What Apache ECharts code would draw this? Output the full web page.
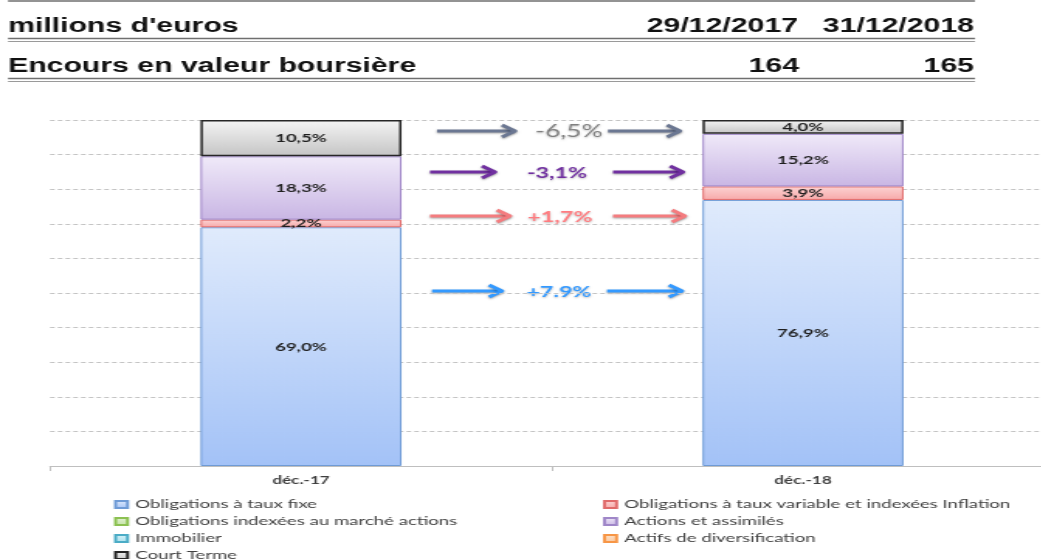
<!DOCTYPE html>
<html>
<head>
<meta charset="utf-8">
<script src="https://cdn.jsdelivr.net/npm/echarts@6/dist/echarts.min.js"></script>
<style>
html, body { margin: 0; padding: 0; overflow: hidden; background: #fff; }
#chart { height: 559px; transform-origin: 0 0; }
</style>
</head>
<body>
<div id="chart"></div>
<script>
// valeurs (% de l'encours)
var categories = ['déc.-17', 'déc.-18'];
var seriesNames = [
    'Obligations à taux fixe',
    'Obligations à taux variable et indexées Inflation',
    'Obligations indexées au marché actions',
    'Actions et assimilés',
    'Immobilier',
    'Actifs de diversification',
    'Court Terme'
];
var obligFixe = [69.0, 76.9];
var obligVariable = [2.2, 3.9];
var obligIndexees = ['-', '-'];
var actions = [18.3, 15.2];
var immobilier = ['-', '-'];
var actifsDiversif = ['-', '-'];
var courtTerme = [10.5, 4.0];

var headerTitle = ["millions d'euros", 'Encours en valeur boursière'];
var headerDates = ['29/12/2017', '31/12/2018'];
var headerEncours = ['164', '165'];
var variations = ['-6,5%', '-3,1%', '+1,7%', '+7.9%'];

// the reference picture is stretched horizontally, so draw narrow and stretch
var S = 1.55;
var W = 1080 / S;   // a bit wider than the window: the plot runs past the right edge
var dom = document.getElementById('chart');
dom.style.width = W + 'px';
dom.style.transform = 'scaleX(' + S + ')';
function px(x) { return x / S; }

var seriesData = [obligFixe, obligVariable, obligIndexees, actions, immobilier, actifsDiversif, courtTerme];
var seriesStyle = [
    ['#e0ebfc', '#a3c2f7', '#6f9bd6', 1],
    ['#fcd3d3', '#f7a9a9', '#e06a6a', 1],
    ['#e4f2d6', '#c3e3a3', '#8cc152', 1],
    ['#f0eaf9', '#c9b6e4', '#9f86c8', 1],
    ['#d8f2f8', '#a6e0ee', '#4bacc6', 1],
    ['#fde3cc', '#fbc79c', '#f79646', 1],
    ['#f5f5f5', '#c4c4c4', '#262626', 1.5]
];

function fmt(p) {
    return p.value.toFixed(1).replace('.', ',') + '%';
}

var series = [];
for (var i = 0; i < seriesNames.length; i++) {
    series.push({
        name: seriesNames[i],
        type: 'bar',
        stack: 'total',
        barWidth: px(201),
        data: seriesData[i],
        itemStyle: {
            color: new echarts.graphic.LinearGradient(0, 0, 0, 1, [
                { offset: 0, color: seriesStyle[i][0] },
                { offset: 1, color: seriesStyle[i][1] }
            ]),
            borderColor: seriesStyle[i][2],
            borderWidth: seriesStyle[i][3]
        },
        label: {
            show: true,
            position: 'inside',
            formatter: fmt,
            color: '#1f1f1f',
            fontFamily: 'Lato',
            fontWeight: 'bold',
            fontSize: 12
        }
    });
}

// en-tete (tableau au-dessus du graphique)
var headFont = 'bold 19.5px "Liberation Sans"';
var graphic = [
    { type: 'line', shape: { x1: px(8), y1: 1, x2: px(975), y2: 1 }, style: { stroke: '#6f6f6f', lineWidth: 1.5 } },
    { type: 'text', style: { text: headerTitle[0], x: px(8), y: 27, font: headFont, fill: '#111', verticalAlign: 'middle' } },
    { type: 'text', style: { text: headerDates[0], x: px(798), y: 27, font: headFont, fill: '#111', textAlign: 'right', verticalAlign: 'middle' } },
    { type: 'text', style: { text: headerDates[1], x: px(974), y: 27, font: headFont, fill: '#111', textAlign: 'right', verticalAlign: 'middle' } },
    { type: 'line', shape: { x1: px(8), y1: 38.5, x2: px(975), y2: 38.5 }, style: { stroke: '#6f6f6f', lineWidth: 1.3 } },
    { type: 'line', shape: { x1: px(8), y1: 41.5, x2: px(975), y2: 41.5 }, style: { stroke: '#9a9a9a', lineWidth: 1.2 } },
    { type: 'text', style: { text: headerTitle[1], x: px(8), y: 67, font: headFont, fill: '#111', verticalAlign: 'middle' } },
    { type: 'text', style: { text: headerEncours[0], x: px(799), y: 67, font: headFont, fill: '#111', textAlign: 'right', verticalAlign: 'middle' } },
    { type: 'text', style: { text: headerEncours[1], x: px(974), y: 67, font: headFont, fill: '#111', textAlign: 'right', verticalAlign: 'middle' } },
    { type: 'line', shape: { x1: px(8), y1: 78.5, x2: px(975), y2: 78.5 }, style: { stroke: '#6f6f6f', lineWidth: 1.3 } },
    { type: 'line', shape: { x1: px(8), y1: 81.5, x2: px(975), y2: 81.5 }, style: { stroke: '#9a9a9a', lineWidth: 1.2 } }
];

// fleches d'evolution entre les deux dates
function arrow(x1, x2, y, color) {
    var shadow = { shadowBlur: 2, shadowColor: 'rgba(0,0,0,0.35)', shadowOffsetY: 1 };
    return {
        type: 'group',
        children: [
            { type: 'line', shape: { x1: px(x1), y1: y, x2: px(x2) - 0.5, y2: y },
              style: Object.assign({ stroke: color, lineWidth: 3 }, shadow) },
            { type: 'polyline', shape: { points: [[px(x2 - 13), y - 6], [px(x2), y], [px(x2 - 13), y + 6]] },
              style: Object.assign({ stroke: color, lineWidth: 3, fill: null, lineJoin: 'round' }, shadow) }
        ]
    };
}
var arrowRows = [
    { y: 131, arrow: '#6b7792', text: '#808080', weight: 'normal', size: 17, l: [437, 515], r: [608, 680], tx: 569 },
    { y: 172, arrow: '#7030a0', text: '#7030a0', weight: 'bold', size: 15, l: [430, 495], r: [613, 683], tx: 557 },
    { y: 216, arrow: '#f47c7f', text: '#ff7c80', weight: 'bold', size: 15, l: [430, 510], r: [613, 685], tx: 560 },
    { y: 291, arrow: '#3399ff', text: '#3399ff', weight: 'bold', size: 15, l: [432, 502], r: [607, 682], tx: 559 }
];
arrowRows.forEach(function (r, k) {
    graphic.push(arrow(r.l[0], r.l[1], r.y, r.arrow));
    graphic.push(arrow(r.r[0], r.r[1], r.y, r.arrow));
    graphic.push({
        type: 'text',
        style: {
            text: variations[k], x: px(r.tx), y: r.y + 1,
            font: r.weight + ' ' + r.size + 'px Lato', fill: r.text,
            textAlign: 'center', verticalAlign: 'middle',
            textShadowBlur: 2, textShadowColor: 'rgba(0,0,0,0.25)', textShadowOffsetY: 1
        }
    });
});

var legendText = { fontFamily: 'Lato', fontSize: 12, color: '#404040', lineHeight: 17 };

var option = {
    animation: false,
    backgroundColor: '#fff',
    grid: { left: px(50), top: 120, width: px(1004), height: 346 },
    xAxis: {
        type: 'category',
        data: categories,
        axisLine: { lineStyle: { color: '#bfbfbf' } },
        axisTick: { show: true, length: 5, lineStyle: { color: '#bfbfbf' } },
        axisLabel: { margin: 9, color: '#404040', fontFamily: 'Lato', fontWeight: 'bold', fontSize: 11 }
    },
    yAxis: {
        type: 'value',
        min: 0,
        max: 100,
        interval: 10,
        axisLabel: { show: false },
        axisLine: { show: false },
        axisTick: { show: false },
        splitLine: { lineStyle: { color: '#c4c4c4', type: [3, 2] } }
    },
    legend: [
        {
            left: px(114), top: 496, height: 120, orient: 'vertical', padding: 0, itemGap: 0,
            icon: 'rect', itemWidth: px(12), itemHeight: 7,
            data: [seriesNames[0], seriesNames[2], seriesNames[4], seriesNames[6]],
            textStyle: legendText
        },
        {
            left: px(603), top: 496, height: 120, orient: 'vertical', padding: 0, itemGap: 0,
            icon: 'rect', itemWidth: px(12), itemHeight: 7,
            data: [seriesNames[1], seriesNames[3], seriesNames[5]],
            textStyle: legendText
        }
    ],
    graphic: graphic,
    series: series
};

var chart = echarts.init(dom);
chart.setOption(option);
</script>
</body>
</html>
